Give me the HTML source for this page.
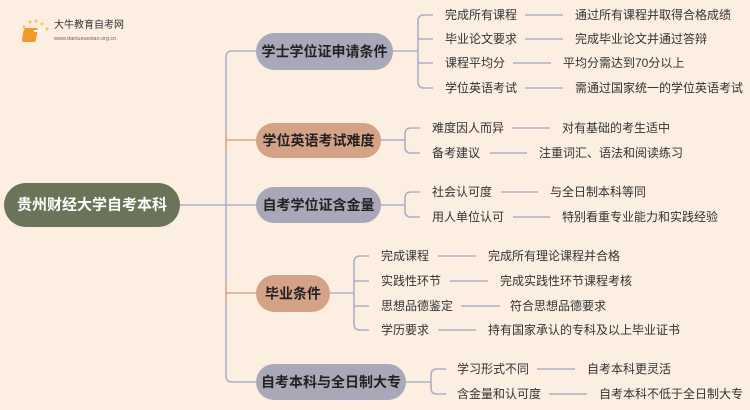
<!DOCTYPE html>
<html><head><meta charset="utf-8"><style>
html,body{margin:0;padding:0;background:#fdeee2;}
svg{display:block}
text{font-family:"Liberation Sans","Noto Sans CJK SC",sans-serif;}
.l{font-size:12px;fill:#333;dominant-baseline:central}
.n{font-size:14px;font-weight:bold;fill:#222;dominant-baseline:central;text-anchor:middle}
.g{stroke:#aeb0c6;stroke-width:1.6;fill:none}
.t{stroke:#d9a58a;stroke-width:1.6;fill:none}
</style></head><body>
<svg width="750" height="410" viewBox="0 0 750 410" xmlns="http://www.w3.org/2000/svg">
<rect width="750" height="410" fill="#fdeee2"/>
<g>
<circle cx="30" cy="22" r="1.5" fill="#f7c55a"/><circle cx="36" cy="21" r="1.5" fill="#f7c55a"/><circle cx="42" cy="24" r="1.5" fill="#f7c55a"/><circle cx="24" cy="27" r="1.5" fill="#f7c55a"/><circle cx="47" cy="29" r="1.5" fill="#f7c55a"/>
<rect x="29" y="28" width="14" height="14" rx="2" fill="#f29a2e" transform="skewX(-10)"/>
<rect x="34" y="30" width="8" height="2" fill="#fff"/>
<text x="54" y="28" style="font-size:10px;fill:#333">大牛教育自考网</text>
<text x="54" y="40" style="font-size:5.5px;fill:#666">www.daniuxuexiao.org.cn</text>
</g>
<path class="g" d="M180 205 H226"/>
<path class="g" d="M256 51 H232 Q226 51 226 57 V130"/>
<path class="t" d="M226 130 V150 M226 140 H256"/>
<path class="g" d="M226 150 V283 M226 205 H256"/>
<path class="t" d="M226 283 V303 M226 293 H256"/>
<path class="g" d="M226 303 V376 Q226 382 232 382 H256"/>
<rect x="4" y="183" width="176" height="44" rx="22" fill="#6b7358"/>
<text x="92" y="205" class="n" style="fill:#fff;font-size:15px">贵州财经大学自考本科</text>
<rect x="256" y="33" width="137" height="37" rx="18.5" fill="#a9a8b8"/><text x="324.5" y="51.5" class="n">学士学位证申请条件</text>
<rect x="256" y="123" width="125" height="35" rx="17.5" fill="#d4a287"/><text x="318.5" y="140.5" class="n">学位英语考试难度</text>
<rect x="256" y="187" width="125" height="36" rx="18" fill="#a9a8b8"/><text x="318.5" y="205" class="n">自考学位证含金量</text>
<rect x="256" y="275" width="74" height="37" rx="18.5" fill="#d4a287"/><text x="293" y="293.5" class="n">毕业条件</text>
<rect x="256" y="364" width="150" height="36" rx="18" fill="#a9a8b8"/><text x="331" y="382" class="n">自考本科与全日制大专</text>
<path class="g" d="M393 51 H418 M433 15 H424 Q418 15 418 21 V82 Q418 88 424 88 H433 M418 39 H433 M418 63 H433"/>
<text x="445" y="15" class="l">完成所有课程</text><path class="g" d="M525 15 H563"/><text x="575" y="15" class="l">通过所有课程并取得合格成绩</text>
<text x="445" y="39" class="l">毕业论文要求</text><path class="g" d="M525 39 H563"/><text x="575" y="39" class="l">完成毕业论文并通过答辩</text>
<text x="445" y="63" class="l">课程平均分</text><path class="g" d="M513 63 H551"/><text x="563" y="63" class="l">平均分需达到70分以上</text>
<text x="445" y="88" class="l">学位英语考试</text><path class="g" d="M525 88 H563"/><text x="575" y="88" class="l">需通过国家统一的学位英语考试</text>
<path class="g" d="M381 140 H405 M420 128 H411 Q405 128 405 134 V147 Q405 153 411 153 H420"/>
<text x="432" y="128" class="l">难度因人而异</text><path class="g" d="M512 128 H550"/><text x="562" y="128" class="l">对有基础的考生适中</text>
<text x="432" y="153" class="l">备考建议</text><path class="g" d="M490 153 H527"/><text x="539" y="153" class="l">注重词汇、语法和阅读练习</text>
<path class="g" d="M381 205 H405 M420 192 H411 Q405 192 405 198 V211 Q405 217 411 217 H420"/>
<text x="432" y="192" class="l">社会认可度</text><path class="g" d="M501 192 H538"/><text x="550" y="192" class="l">与全日制本科等同</text>
<text x="432" y="217" class="l">用人单位认可</text><path class="g" d="M513 217 H550"/><text x="562" y="217" class="l">特别看重专业能力和实践经验</text>
<path class="g" d="M330 293 H354 M369 256 H360 Q354 256 354 262 V324 Q354 330 360 330 H369 M354 281 H369 M354 306 H369"/>
<text x="381" y="256" class="l">完成课程</text><path class="g" d="M438 256 H476"/><text x="488" y="256" class="l">完成所有理论课程并合格</text>
<text x="381" y="281" class="l">实践性环节</text><path class="g" d="M450 281 H488"/><text x="500" y="281" class="l">完成实践性环节课程考核</text>
<text x="381" y="306" class="l">思想品德鉴定</text><path class="g" d="M461 306 H500"/><text x="510" y="306" class="l">符合思想品德要求</text>
<text x="381" y="330" class="l">学历要求</text><path class="g" d="M438 330 H476"/><text x="488" y="330" class="l">持有国家承认的专科及以上毕业证书</text>
<path class="g" d="M406 382 H431 M446 369 H437 Q431 369 431 375 V388 Q431 394 437 394 H446"/>
<text x="457" y="369" class="l">学习形式不同</text><path class="g" d="M537 369 H575"/><text x="587" y="369" class="l">自考本科更灵活</text>
<text x="457" y="394" class="l">含金量和认可度</text><path class="g" d="M549 394 H587"/><text x="599" y="394" class="l">自考本科不低于全日制大专</text>
</svg>
</body></html>
